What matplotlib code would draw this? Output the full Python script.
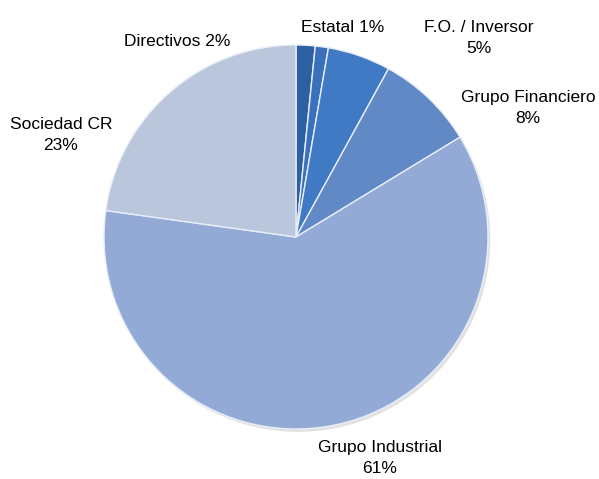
import matplotlib
matplotlib.use("Agg")
import matplotlib.pyplot as plt

# slice data, clockwise from 12 o'clock
categories = ["Directivos", "Estatal", "F.O. / Inversor", "Grupo Financiero", "Grupo Industrial", "Sociedad CR"]
shares = [1.6, 1.1, 5.3, 8.3, 60.9, 22.8]
colors = ["#2d5fa3", "#3a70bc", "#4079c4", "#6089c6", "#93aad6", "#bac6dc"]

# label text layout (single line or name over percent), pixel centres
label_two_lines = [False, False, True, True, True, True]
label_pos = [(177, 42), (343, 27), (479, 38), (528, 108), (380, 458), (61, 135)]

plt.rcParams["font.family"] = ["Liberation Sans", "DejaVu Sans"]

W, H = 599, 479
fig = plt.figure(figsize=(W / 100, H / 100), dpi=100)
cx, cy, r = 296, 237, 192
ax = fig.add_axes([(cx - 1.1 * r) / W, (H - cy - 1.1 * r) / H, 2.2 * r / W, 2.2 * r / H])

# soft shadow behind the pie
ax.pie(shares, radius=1.0, center=(0.012, -0.015), startangle=90, counterclock=False,
       colors=["#e2e2e2"] * len(shares), wedgeprops=dict(linewidth=0))
wedges, _ = ax.pie(shares, radius=1.0, startangle=90, counterclock=False, colors=colors,
                   wedgeprops=dict(edgecolor="#e8eef8", linewidth=1.0))
ax.set_xlim(-1.1, 1.1)
ax.set_ylim(-1.1, 1.1)
ax.set_aspect("equal")
ax.axis("off")

total = sum(shares)
for name, val, two, (px, py) in zip(categories, shares, label_two_lines, label_pos):
    pct = f"{round(val / total * 100):.0f}%"
    txt = f"{name}\n{pct}" if two else f"{name} {pct}"
    fig.text(px / W, 1 - py / H, txt, ha="center", va="center", fontsize=12.5,
             color="black", linespacing=1.55)

fig.savefig("out.png", dpi=100, facecolor="white")
